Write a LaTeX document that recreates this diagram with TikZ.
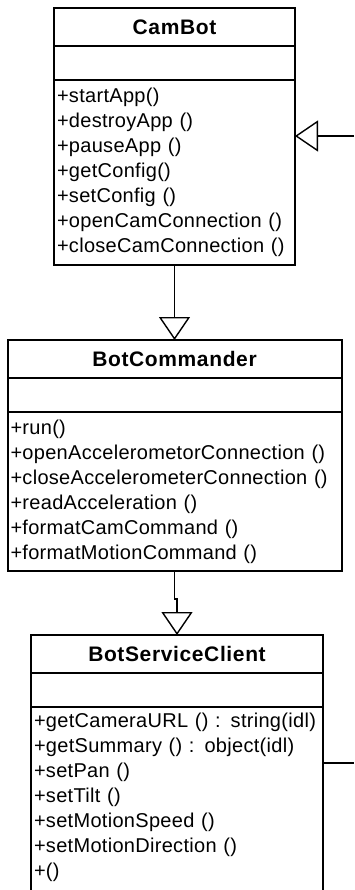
\documentclass[tikz,border=0pt]{standalone}
\usepackage{fontspec}
\setmainfont{Liberation Sans}
\usetikzlibrary{arrows.meta,positioning,calc}

\begin{document}
\begin{tikzpicture}[x=1pt,y=1pt,
      part/.style={draw,line width=2pt,outer sep=0pt,inner sep=0pt},
      head/.style={part,minimum height=38pt,font=\fontsize{21}{25}\selectfont\bfseries\addfontfeatures{LetterSpace=3}},
      attr/.style={part,minimum height=34pt},
      ops/.style={part,inner xsep=3pt,inner ysep=6pt,align=left,font=\fontsize{20}{25}\selectfont\addfontfeatures{LetterSpace=1.5}},
      gen/.style={-{Triangle[open,length=23pt,width=31pt,line width=1.4pt]},line width=1.3pt},
      conn/.style={line width=1.3pt}]
    \useasboundingbox (0,0) rectangle (354,-890);
    \clip (0,0) rectangle (354,-890);
    \node[head,minimum width=241pt,anchor=north west] (cambot) at (54,-8) {CamBot};
    \node[attr,minimum width=241pt,below=0pt of cambot] (camattr) {};
    \node[ops,text width=235pt,minimum height=185pt,below=0pt of camattr] (camops)
      {+startApp()\\+destroyApp ()\\+pauseApp ()\\+getConfig()\\+setConfig ()\\
       +openCamConnection ()\\+closeCamConnection ()};
    \node[head,minimum width=334pt,below=75pt of camops] (cmd) {BotCommander};
    \node[attr,minimum width=334pt,below=0pt of cmd] (cmdattr) {};
    \node[ops,text width=328pt,minimum height=159pt,below=0pt of cmdattr] (cmdops)
      {+run()\\+openAccelerometorConnection ()\\+closeAccelerometerConnection ()\\
       +readAcceleration ()\\+formatCamCommand ()\\+formatMotionCommand ()};
    \node[head,minimum width=292pt,below=64pt of cmdops,xshift=2.5pt] (client) {BotServiceClient};
    \node[attr,minimum width=292pt,below=0pt of client] (clientattr) {};
    \node[ops,text width=286pt,text depth=250pt,below=0pt of clientattr] (clientops)
      {+getCameraURL () : string(idl)\\+getSummary () : object(idl)\\+setPan ()\\+setTilt ()\\
       +setMotionSpeed ()\\+setMotionDirection ()\\+()};
    \coordinate (offtop) at (354,-136);
    \coordinate (offbot) at (354,-763);
    \draw[gen] (camops.south) -- (cmd.north);
    \draw[gen] (cmdops.south) -- ++(0,-28) -| (client.north);
    \draw[gen] (offtop) -- (offtop -| camops.east);
    \draw[conn] (offbot -| clientops.east) -- (offbot);
  \end{tikzpicture}
\end{document}
